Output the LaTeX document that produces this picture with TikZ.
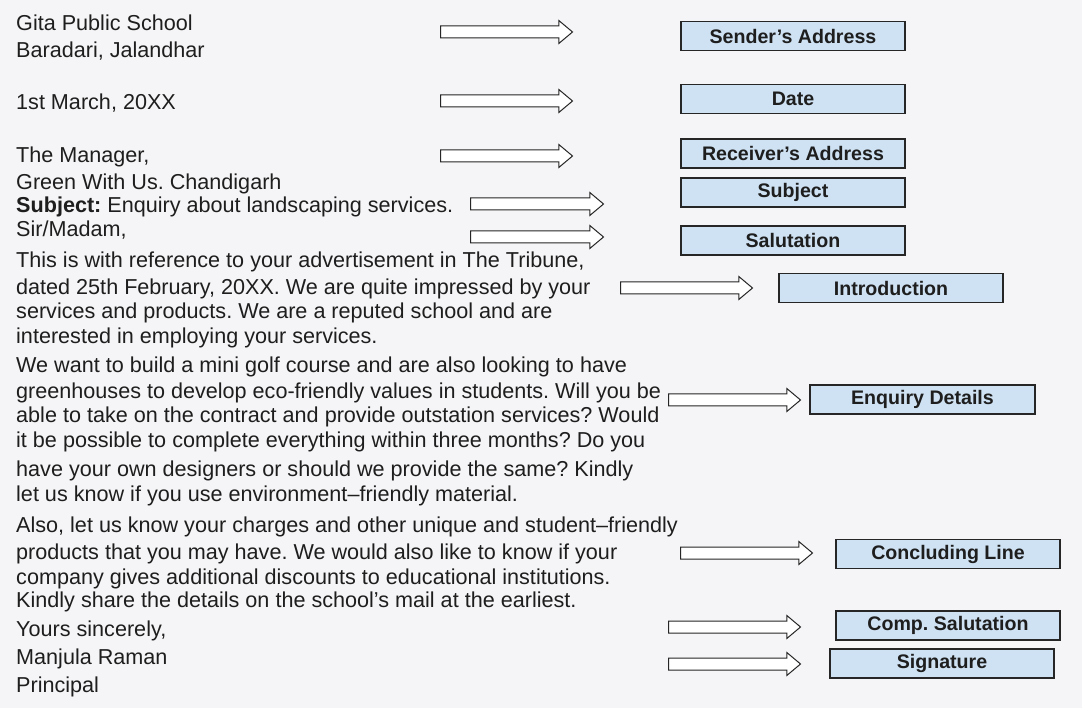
\documentclass[tikz,border=0pt]{standalone}
\usepackage{fontspec}
\setmainfont{Liberation Sans}
\usetikzlibrary{shapes.arrows}
\definecolor{bg}{HTML}{F5F4F6}
\definecolor{boxfill}{HTML}{CFE2F3}
\definecolor{txt}{HTML}{1E1E1E}
\frenchspacing
\begin{document}
\begin{tikzpicture}[x=1pt,y=-1pt,
  body/.style={anchor=base west,inner sep=0,text=txt,font=\fontsize{21.6}{24}\selectfont},
  lbl/.style={draw=black!85,line width=1.2pt,fill=boxfill,minimum height=29,text=txt,font=\bfseries\fontsize{19.6}{22}\selectfont,inner sep=0},
  barrow/.style={single arrow,draw=black!85,line width=1pt,fill=white,inner sep=5.5,single arrow head extend=5.5,single arrow tip angle=80,minimum width=22,anchor=west}]
\fill[bg] (0,0) rectangle (1082,708);
\useasboundingbox (0,0) rectangle (1082,708);
% letter text
\foreach \t/\y [count=\i] in {
 Gita Public School/31,
 {Baradari, Jalandhar}/58,
 {1st March, 20XX}/110,
 {The Manager,}/163,
 Green With Us. Chandigarh/190,
 {\textbf{Subject:} Enquiry about landscaping services.}/213,
 {Sir/Madam,}/237,
 {This is with reference to your advertisement in The Tribune,}/268,
 {dated 25th February, 20XX. We are quite impressed by your}/295,
 {services and products. We are a reputed school and are}/319,
 {interested in employing your services.}/344,
 {We want to build a mini golf course and are also looking to have}/373,
 {greenhouses to develop eco-friendly values in students. Will you be}/399,
 {able to take on the contract and provide outstation services? Would}/423,
 {it be possible to complete everything within three months? Do you}/447,
 {have your own designers or should we provide the same? Kindly}/476,
 {let us know if you use environment--friendly material.}/501,
 {Also, let us know your charges and other unique and student--friendly}/532,
 {products that you may have. We would also like to know if your}/559,
 {company gives additional discounts to educational institutions.}/584,
 {Kindly share the details on the school's mail at the earliest.}/607,
 {Yours sincerely,}/636,
 {Manjula Raman}/664,
 {Principal}/692}
 \node[body] (l\i) at (16,\y) {\t};
% arrows
\foreach \x/\len/\y [count=\i] in {440/132/32,440/132/101,440/132/156,470/133/204,470/133/237,620/132/288,668/132/400,680/132/553,668/132/627,668/132/664}
 \node[barrow,minimum height=\len] (a\i) at (\x,\y) {};
% boxes
\node[lbl,minimum width=224] (b1) at (793,36) {Sender's Address};
\node[lbl,minimum width=224] (b2) at (793,99) {Date};
\node[lbl,minimum width=224] (b3) at (793,153.5) {Receiver's Address};
\node[lbl,minimum width=224] (b4) at (793,192.5) {Subject};
\node[lbl,minimum width=224] (b5) at (793,240.5) {Salutation};
\node[lbl,minimum width=224] (b6) at (891,288) {Introduction};
\node[lbl,minimum width=225] (b7) at (922.5,399.5) {Enquiry Details};
\node[lbl,minimum width=224] (b8) at (948,554) {Concluding Line};
\node[lbl,minimum width=224] (b9) at (948,625.5) {Comp. Salutation};
\node[lbl,minimum width=224] (b10) at (942,663.5) {Signature};
\end{tikzpicture}
\end{document}
